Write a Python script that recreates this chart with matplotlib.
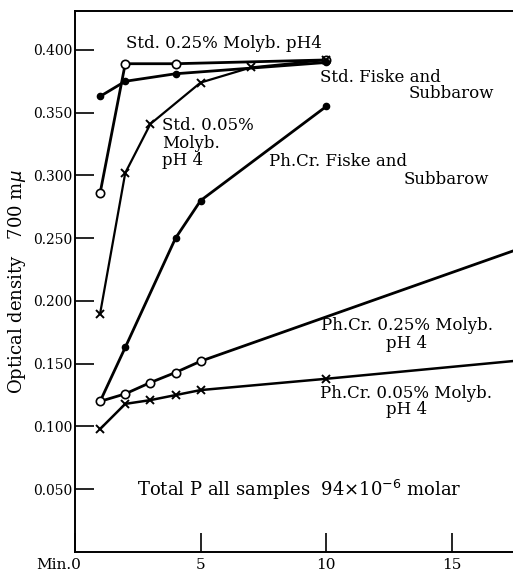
import matplotlib
matplotlib.use("Agg")
import matplotlib.pyplot as plt
import matplotlib.transforms as mtransforms

# --- data (time in minutes, optical density at 700 mu) ---
std025_x = [1, 2, 4, 10]
std025_y = [0.286, 0.389, 0.389, 0.392]

stdfiske_x = [1, 2, 4, 10]
stdfiske_y = [0.363, 0.375, 0.381, 0.390]

std005_x = [1, 2, 3, 5, 7, 10]
std005_y = [0.190, 0.302, 0.341, 0.374, 0.386, 0.392]

phfiske_x = [1, 2, 4, 5, 10]
phfiske_y = [0.120, 0.163, 0.250, 0.280, 0.355]

ph025_x = [1, 2, 3, 4, 5, 20]
ph025_y = [0.120, 0.126, 0.135, 0.143, 0.152, 0.258]

ph005_x = [1, 2, 3, 4, 5, 10, 20]
ph005_y = [0.098, 0.118, 0.121, 0.125, 0.129, 0.138, 0.157]

xticks = [0, 5, 10, 15]
xticklabels = ["Min.0", "5", "10", "15"]
yticks = [0.050, 0.100, 0.150, 0.200, 0.250, 0.300, 0.350, 0.400]
yticklabels = ["0.050", "0.100", "0.150", "0.200", "0.250", "0.300", "0.350", "0.400"]

plt.rcParams['font.family'] = ['DejaVu Serif']

fig = plt.figure(figsize=(5.13, 5.72), dpi=100)
ax = fig.add_axes([75/513, 20/572, 1 - 75/513, (552-11)/572])

ax.set_xlim(0, 17.43)
ax.set_ylim(0, 0.431)

k = 'black'
ax.plot(std025_x, std025_y, color=k, lw=2.0, marker='o', ms=6, mfc='white', mec=k, mew=1.2)
ax.plot(stdfiske_x, stdfiske_y, color=k, lw=2.0, marker='o', ms=4.5, mfc=k, mec=k)
ax.plot(std005_x, std005_y, color=k, lw=1.6, marker='x', ms=5.5, mew=1.4)
ax.plot(phfiske_x, phfiske_y, color=k, lw=2.0, marker='o', ms=4.5, mfc=k, mec=k)
ax.plot(ph025_x, ph025_y, color=k, lw=2.0, marker='o', ms=6, mfc='white', mec=k, mew=1.2)
ax.plot(ph005_x, ph005_y, color=k, lw=1.8, marker='x', ms=5.5, mew=1.4)

ax.spines['right'].set_visible(False)
for s in ['left', 'bottom', 'top']:
    ax.spines[s].set_linewidth(1.4)

ax.set_xticks(xticks)
ax.set_xticklabels(xticklabels, fontsize=11)
ax.set_yticks(yticks)
ax.set_yticklabels(yticklabels, fontsize=10)
ax.tick_params(axis='both', direction='in', length=14, width=1.2, pad=2)
ax.tick_params(axis='x', pad=4)
xl = ax.get_xticklabels()
xl[0].set_horizontalalignment('right')
xl[0].set_transform(xl[0].get_transform() + mtransforms.ScaledTranslation(6/100, 0, fig.dpi_scale_trans))

ax.set_ylabel("Optical density   700 m$\\mu$", fontsize=13)
ax.yaxis.set_label_coords(-0.107, 0.5)

fs = 12
def px(x, y):
    return (x / 513, 1 - y / 572)

def t(x, y, s, ha='left', size=fs):
    fig.text(*px(x, y), s, fontsize=size, ha=ha, va='center')

t(126, 43, "Std. 0.25% Molyb. pH4")
t(320, 77, "Std. Fiske and")
t(494, 94, "Subbarow", ha='right')
t(162, 125, "Std. 0.05%")
t(162, 143, "Molyb.")
t(162, 160, "pH 4")
t(269, 162, "Ph.Cr. Fiske and")
t(489, 180, "Subbarow", ha='right')
t(321, 326, "Ph.Cr. 0.25% Molyb.")
t(407, 344, "pH 4", ha='center')
t(320, 393, "Ph.Cr. 0.05% Molyb.")
t(407, 410, "pH 4", ha='center')
t(137, 490, "Total P all samples  94$\\times$10$^{-6}$ molar", size=13)

fig.savefig("out.png", dpi=100)
